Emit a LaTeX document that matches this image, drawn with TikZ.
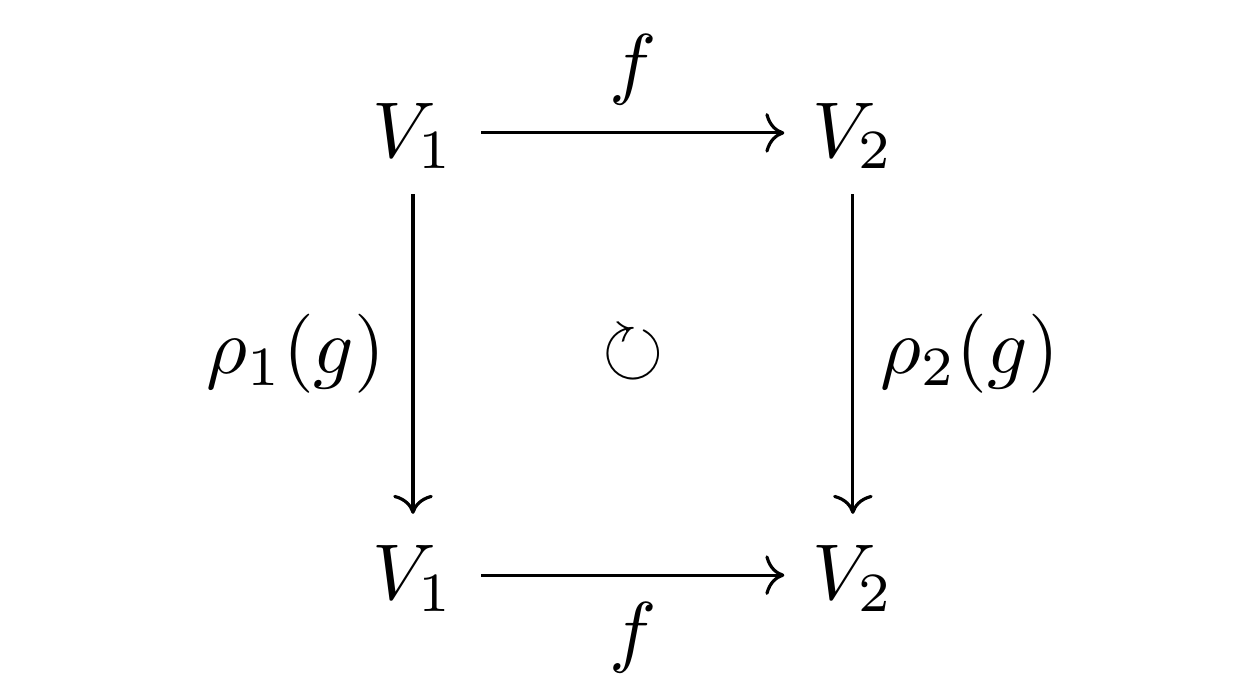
\documentclass[tikz,border=0pt]{standalone}
\usepackage{amssymb}
\usetikzlibrary{calc,arrows.meta}
\tikzset{
  obj/.style={inner xsep=3.3pt, inner ysep=4.0pt, text height=6.6pt, text depth=0.5pt},
  arr/.style={-{Computer Modern Rightarrow[length=2.4pt,width=5pt]}, line width=0.4pt},
  lbl/.style={inner sep=3.3pt}
}
\begin{document}
\begin{tikzpicture}
\useasboundingbox (0,0) rectangle (158pt,-88.36pt);
\node[obj] (a) at (52.2pt,-16.8pt) {$V_1$};
\node[obj] (b) at (107.8pt,-16.8pt) {$V_2$};
\node[obj] (c) at (52.2pt,-72.7pt) {$V_1$};
\node[obj] (d) at (107.8pt,-72.7pt) {$V_2$};
\draw[arr] (a) -- node[lbl, above] (ftop) {$f$} (b);
\draw[arr] (c) -- node[lbl, below] (fbot) {$f$} (d);
\draw[arr] (a) -- node[lbl, left] (r1) {$\rho_1(g)$} (c);
\draw[arr] (b) -- node[lbl, right] (r2) {$\rho_2(g)$} (d);
\node (circ) at ($(a)!0.5!(d)$) {$\circlearrowright$};
\end{tikzpicture}
\end{document}
